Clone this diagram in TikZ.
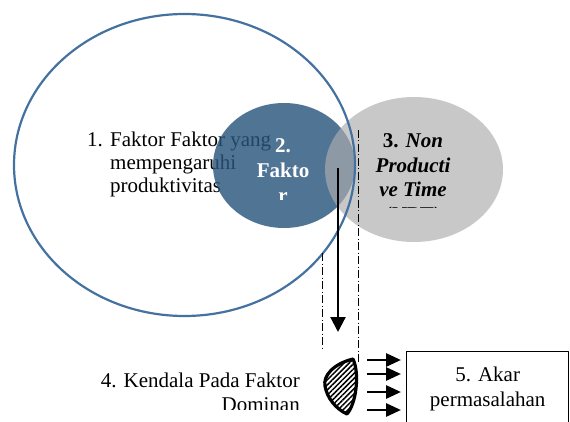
\documentclass[tikz,border=0pt]{standalone}
\usepackage{fontspec}
\setmainfont{Liberation Serif}
\usetikzlibrary{arrows.meta,patterns.meta}
\definecolor{ringblue}{RGB}{68,114,160}
\definecolor{faktorblue}{RGB}{42,85,125}
\definecolor{nptgrey}{RGB}{172,172,172}
\newcommand\textlines[2]{\begin{tabular}[t]{@{}#1@{}}#2\end{tabular}}
\begin{document}
\begin{tikzpicture}[x=1pt, y=-1pt, line join=round, >=Stealth]
	\tikzset{
		teks/.style={inner sep=0pt, font=\fontsize{21}{23}\selectfont},
		tebal/.style={inner sep=0pt, font=\fontsize{21}{24.5}\selectfont\bfseries},
		garis-bantu/.style={line width=0.6pt, dash pattern=on 8pt off 2.5pt on 1pt off 2.5pt},
		turun/.style={line width=2.2pt, -{Triangle[length=15pt,width=15pt]}},
		dorong/.style={line width=2.8pt, -{Triangle[length=15pt,width=13pt]}, shorten >=5pt},
	}
	\useasboundingbox (0,0) rectangle (570,422);
	\node[teks, anchor=base west] (no1) at (87,147) {1.};
	\node[teks, anchor=base west] (faktor) at (110,147) {\textlines{l}{Faktor Faktor yang\\mempengaruhi\\produktivitas}};
	\fill[faktorblue, opacity=0.82] (284,165.5) ellipse (71 and 62.5);
	\begin{scope}
		\clip (230,110) rectangle (340,200);
		\node[tebal, text=white, anchor=base, font=\fontsize{21}{25}\selectfont\bfseries] (dominan) at (283,153) {\textlines{c}{2.\\Fakto\\r}};
	\end{scope}
	\fill[nptgrey, opacity=0.66] (414,169.5) ellipse (89 and 72.5);
	\begin{scope}
		\clip (350,110) rectangle (480,208);
		\node[tebal, anchor=base] (npt) at (413,148) {\textlines{c}{3. \textit{Non}\\\textit{Producti}\\\textit{ve Time}\\(NPT)}};
	\end{scope}
	\draw[ringblue, line width=2.2pt] (184.5,165) ellipse (170.5 and 151);
	% garis bantu titik-strip
	\coordinate (kiri-atas) at (322,253);
	\coordinate (kiri-bawah) at (322,348);
	\coordinate (kanan-atas) at (358,130);
	\coordinate (kanan-bawah) at (358,363);
	\draw[garis-bantu] (kiri-atas)--(kiri-bawah);
	\draw[garis-bantu] (kanan-atas)--(kanan-bawah);
	\coordinate (irisan) at (338,168);
	\coordinate (sasaran) at (338,332);
	\draw[turun] (irisan)--(sasaran);
	% perisai
	\draw[line width=3.2pt, pattern={Lines[angle=45,distance=3.6pt,line width=1.5pt]}]
		(353,359) .. controls (333,364) and (323,376) .. (325,386)
		.. controls (327,398) and (336,409) .. (347,414)
		.. controls (356,404) and (360,374) .. cycle;
	\begin{scope}
		\clip (90,360) rectangle (310,409.5);
		\node[teks, anchor=base east, font=\fontsize{21}{24}\selectfont] (kendala) at (300,387) {\textlines{r}{4. Kendala Pada Faktor\\Dominan}};
	\end{scope}
	\node[teks, draw, line width=1.4pt, minimum width=162pt, minimum height=74pt, anchor=north west, font=\fontsize{21}{25}\selectfont] (akar) at (406,351) {\textlines{c}{5. Akar\\permasalahan}};
	\foreach \y [count=\i] in {360,374,392,410} {
		\coordinate (p\i) at (367,\y);
		\draw[dorong] (p\i)--(p\i -| akar.west);
	}
\end{tikzpicture}
\end{document}
